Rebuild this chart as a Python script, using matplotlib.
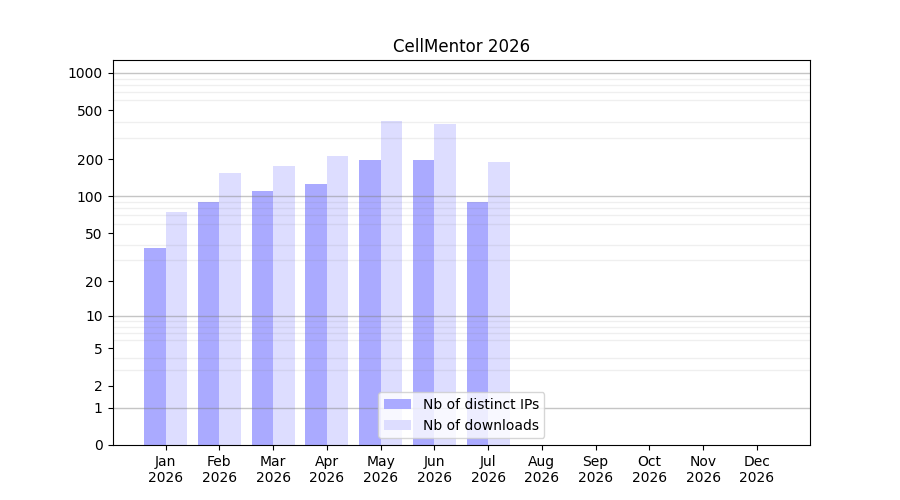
import numpy as np
import matplotlib
matplotlib.use("Agg")
import matplotlib.pyplot as plt

months = ["Jan", "Feb", "Mar", "Apr", "May", "Jun", "Jul", "Aug", "Sep", "Oct", "Nov", "Dec"]
year = "2026"
distinct_ips = [38, 90, 111, 126, 198, 198, 90, 0, 0, 0, 0, 0]
downloads = [74, 155, 177, 213, 409, 387, 190, 0, 0, 0, 0, 0]
yticks = [0, 1, 2, 5, 10, 20, 50, 100, 200, 500, 1000]

fwd = lambda v: np.log10(np.asarray(v, dtype=float) + 1)
inv = lambda v: 10 ** np.asarray(v, dtype=float) - 1

fig, ax = plt.subplots(figsize=(9, 5), dpi=100)
x = np.arange(len(months))
w = 0.4
ax.bar(x - w / 2, distinct_ips, width=w, color="#aaaaff", label="Nb of distinct IPs")
ax.bar(x + w / 2, downloads, width=w, color="#ddddff", label="Nb of downloads")
ax.set_yscale("function", functions=(fwd, inv))
ax.set_ylim(0, 1270)
ax.set_yticks(yticks)
ax.set_yticklabels([str(t) for t in yticks])
minor = [m * 10 ** d for d in range(0, 4) for m in range(1, 10)]
minor = [m for m in minor if m <= 1270]
ax.set_yticks(minor, minor=True)
ax.tick_params(axis="y", which="minor", length=0)
ax.yaxis.grid(True, which="minor", color="gray", alpha=0.12, linewidth=1)
for d in [1, 10, 100, 1000]:
    ax.axhline(d, color="gray", alpha=0.45, linewidth=1)
ax.set_xticks(x)
ax.set_xticklabels([f"{m}\n{year}" for m in months])
ax.set_title("CellMentor 2026")
ax.legend(loc="lower center")
fig.savefig("out.png")
